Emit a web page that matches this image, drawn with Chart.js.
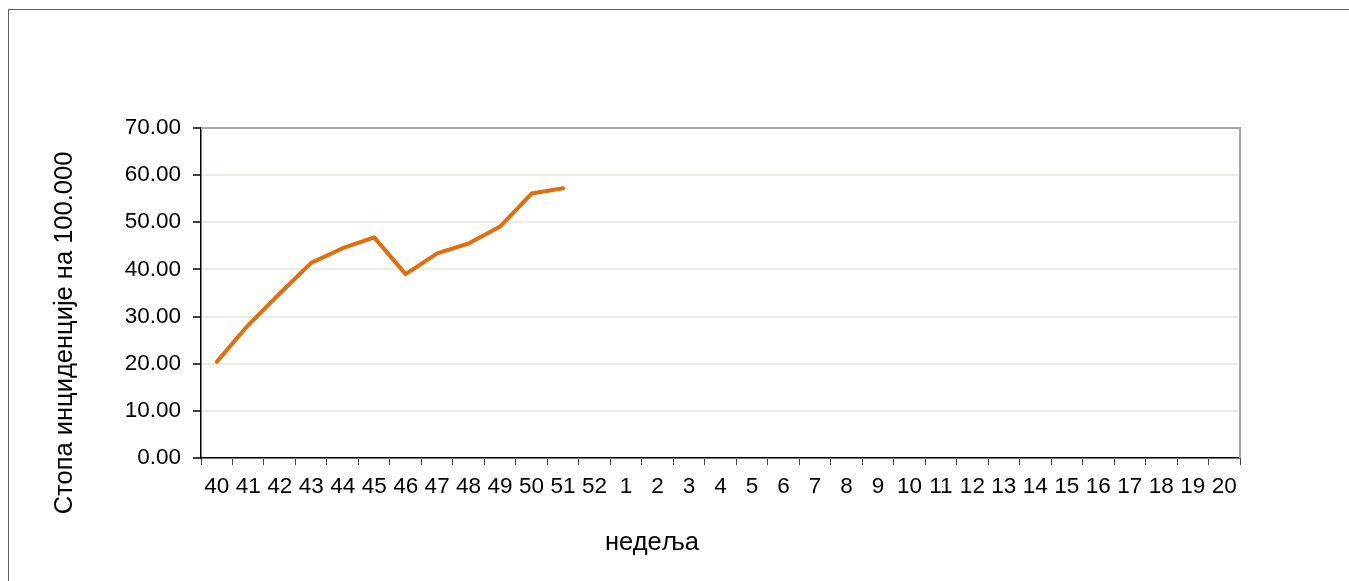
<!DOCTYPE html>
<html>
<head>
<meta charset="utf-8">
<script src="https://cdn.jsdelivr.net/npm/chart.js@4/dist/chart.umd.min.js"></script>
<style>
  html, body { margin: 0; padding: 0; background: #fff; overflow: hidden; }
  #frame { position: absolute; left: 8px; top: 9px; right: 0; bottom: 0;
           border-top: 1px solid #5f5f5f; border-left: 1px solid #5f5f5f; }
  #chart { position: absolute; left: 0; top: 0; }
</style>
</head>
<body>
<div id="frame"></div>
<canvas id="chart" width="1349" height="581"></canvas>
<script>
// weeks 40-52 of one year, then 1-20 of the next
const weeks = ['40','41','42','43','44','45','46','47','48','49','50','51','52',
  '1','2','3','4','5','6','7','8','9','10','11','12','13','14','15','16','17','18','19','20'];
const rate = [20.4, 28.2, 34.9, 41.4, 44.5, 46.8, 39.0, 43.4, 45.5, 49.1, 56.1, 57.2];
const yTitle = 'Стопа инциденције на 100.000';
const xTitle = 'недеља';

const FONT = 'Liberation Sans, Arial, sans-serif';

const frameLines = {
  id: 'frameLines',
  afterDatasetsDraw(chart){
    const { ctx, chartArea: a } = chart;
    ctx.save();
    ctx.strokeStyle = '#a6a6a6';
    ctx.lineWidth = 2;
    ctx.beginPath();
    ctx.moveTo(a.left, a.top);
    ctx.lineTo(a.right, a.top);
    ctx.lineTo(a.right, a.bottom);
    ctx.stroke();
    ctx.restore();
  },
  afterDraw(chart){
    const ctx = chart.ctx;
    ctx.save();
    ctx.fillStyle = '#000';
    ctx.font = '25.5px ' + FONT;
    ctx.textAlign = 'center';
    ctx.textBaseline = 'middle';
    ctx.fillText(xTitle, 652, 543);
    ctx.translate(65, 333);
    ctx.rotate(-Math.PI / 2);
    ctx.fillText(yTitle, 0, 0);
    ctx.restore();
  }
};

new Chart(document.getElementById('chart'), {
  type: 'line',
  data: {
    labels: weeks,
    datasets: [{
      data: rate,
      borderColor: '#e46c0a',
      borderWidth: 4,
      borderCapStyle: 'round',
      borderJoinStyle: 'round',
      pointRadius: 0,
      tension: 0,
      fill: false
    }]
  },
  options: {
    responsive: false,
    animation: false,
    layout: { padding: { top: 128, right: 109, bottom: 0, left: 0 } },
    plugins: { legend: { display: false }, tooltip: { enabled: false } },
    scales: {
      x: {
        offset: true,
        grid: { offset: true, drawOnChartArea: false, drawTicks: true, tickLength: 7, color: '#404040' },
        border: { color: '#000', width: 1.5 },
        ticks: { autoSkip: false, maxRotation: 0, color: '#000', padding: 8, font: { family: FONT, size: 22.5 } },
        afterFit(s){ s.height = 123; }
      },
      y: {
        min: 0, max: 70,
        grid: { color: '#eeece1', lineWidth: 2, tickLength: 8, tickColor: '#404040' },
        border: { color: '#000', width: 1.5 },
        ticks: { stepSize: 10, color: '#000', padding: 12, font: { family: FONT, size: 22.5 },
                 callback: v => v.toFixed(2) },
        afterFit(s){ s.width = 201; }
      }
    }
  },
  plugins: [frameLines]
});
</script>
</body>
</html>
